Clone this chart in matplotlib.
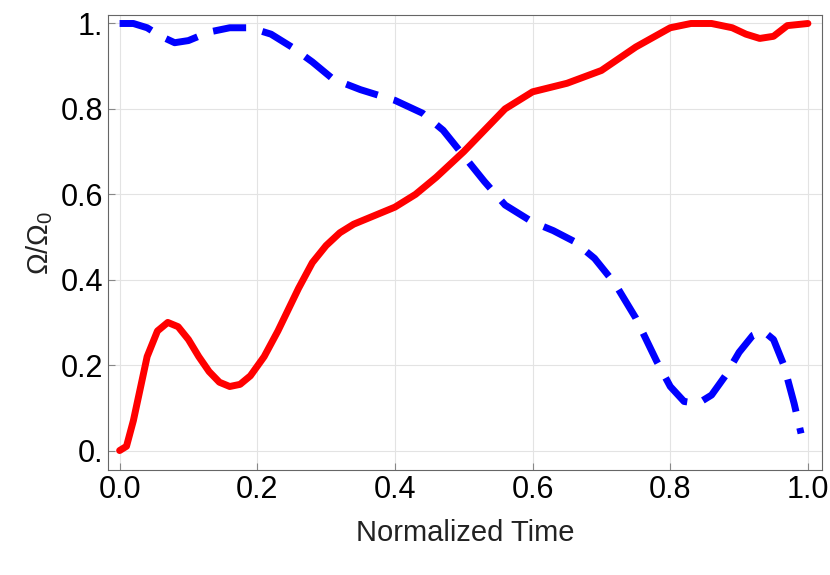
import matplotlib.pyplot as plt

plt.rcParams['font.family'] = ['Liberation Sans', 'DejaVu Sans']
plt.rcParams['mathtext.fontset'] = 'custom'
plt.rcParams['mathtext.rm'] = 'Liberation Sans'
plt.rcParams['mathtext.it'] = 'Liberation Sans'

# values
red_x = [0.0, 0.01, 0.02, 0.04, 0.055, 0.07, 0.085, 0.1, 0.115, 0.13, 0.145, 0.16, 0.175, 0.19, 0.21, 0.23,
         0.26, 0.28, 0.3, 0.32, 0.34, 0.37, 0.4, 0.43, 0.46, 0.5, 0.53, 0.56, 0.6, 0.65, 0.7, 0.75,
         0.8, 0.83, 0.86, 0.89, 0.91, 0.93, 0.95, 0.97, 1.0]
red_y = [0.0, 0.01, 0.07, 0.22, 0.28, 0.30, 0.29, 0.26, 0.22, 0.185, 0.16, 0.15, 0.155, 0.175, 0.22, 0.28,
         0.38, 0.44, 0.48, 0.51, 0.53, 0.55, 0.57, 0.60, 0.64, 0.70, 0.75, 0.80, 0.84, 0.86, 0.89, 0.945,
         0.99, 1.0, 1.0, 0.99, 0.975, 0.965, 0.97, 0.995, 1.0]

blue_x = [0.0, 0.02, 0.04, 0.06, 0.08, 0.1, 0.13, 0.16, 0.19, 0.22, 0.25, 0.28, 0.31, 0.35, 0.4,
          0.44, 0.47, 0.5, 0.53, 0.56, 0.6, 0.63, 0.66, 0.69, 0.72, 0.75, 0.78, 0.8, 0.82, 0.84,
          0.86, 0.88, 0.9, 0.92, 0.935, 0.95, 0.965, 0.98, 0.99]
blue_y = [1.0, 1.0, 0.99, 0.97, 0.955, 0.96, 0.98, 0.99, 0.99, 0.975, 0.945, 0.91, 0.87, 0.845, 0.82,
          0.79, 0.75, 0.69, 0.63, 0.575, 0.535, 0.515, 0.49, 0.45, 0.39, 0.31, 0.21, 0.15, 0.115, 0.11,
          0.13, 0.175, 0.23, 0.27, 0.28, 0.26, 0.2, 0.11, 0.04]

fig = plt.figure(figsize=(8.3, 5.75), dpi=100)
ax = fig.add_axes([0.13, 0.183, 0.86, 0.791])

ax.plot(blue_x, blue_y, color='#0000ff', lw=5, dashes=(4.8, 2.4), solid_joinstyle='round',
        dash_joinstyle='round', dash_capstyle='butt')
ax.plot(red_x, red_y, color='#ff0000', lw=5, solid_joinstyle='round', solid_capstyle='round')

ax.set_xlim(-0.017, 1.02)
ax.set_ylim(-0.045, 1.02)
ax.set_xticks([0.0, 0.2, 0.4, 0.6, 0.8, 1.0])
ax.set_xticklabels(['0.0', '0.2', '0.4', '0.6', '0.8', '1.0'])
ax.set_yticks([0.0, 0.2, 0.4, 0.6, 0.8, 1.0])
ax.set_yticklabels(['0.', '0.2', '0.4', '0.6', '0.8', '1.'])
ax.tick_params(labelsize=22, direction='in', length=5, color='#888888')
ax.grid(color='#e3e3e3', lw=0.8)
for s in ax.spines.values():
    s.set_color('#666666')

ax.set_xlabel('Normalized Time', fontsize=21, color='#222222', labelpad=10)
ax.set_ylabel(r'$\Omega/\Omega_0$', fontsize=21, color='#222222')

fig.savefig('out.png', dpi=100)
